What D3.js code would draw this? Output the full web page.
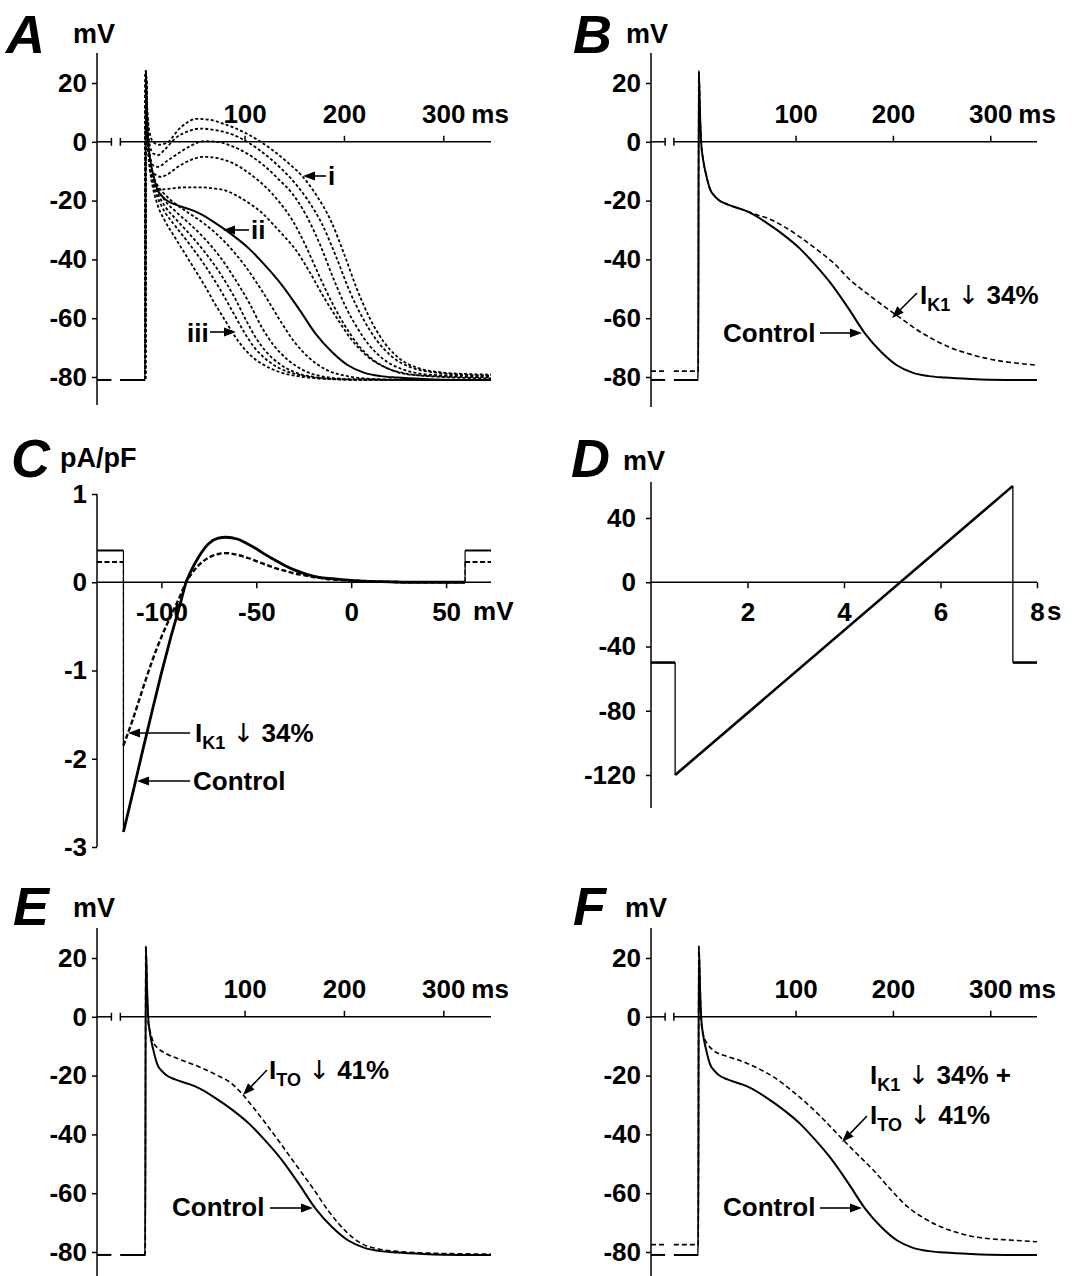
<!DOCTYPE html>
<html>
<head>
<meta charset="utf-8">
<script src="https://cdn.jsdelivr.net/npm/d3@7"></script>
<style>
  body { margin: 0; background: #fff; }
  text { font-family: "Liberation Sans", Arial, sans-serif; font-weight: bold; fill: #000; }
  .arr { font-family: "DejaVu Sans", sans-serif; font-weight: normal; }
</style>
</head>
<body>
<svg id="fig" width="1089" height="1276"></svg>
<script>
// ---------- data ----------
// action potentials: [time ms, membrane potential mV]
const controlAP = [[-25,-81],[0,-81],[0.6,24],[2,8],[3,0],[5,-6],[8,-11],[12,-16],[17,-18.5],[21,-19.8],[30,-21.3],[45,-23],[56,-24.6],[70,-27.5],[87,-31.5],[105,-36.5],[120,-41.8],[137,-48.5],[154,-56.5],[172,-65.5],[188,-71.5],[204,-76],[220,-78.5],[237,-79.7],[253,-80.2],[280,-80.7],[316,-81],[348,-81]];
const ik1AP = [[-25,-78],[0,-78],[0.6,24],[2,8],[3,0],[5,-6],[8,-11],[12,-16],[17,-18.5],[21,-19.8],[30,-21.3],[45,-23],[60,-24.8],[75,-26.5],[88,-28.8],[105,-32.5],[122,-36.7],[140,-41.5],[156,-47],[175,-52],[191,-56],[208,-60],[225,-64],[242,-67.3],[259,-70],[277,-72],[294,-73.5],[311,-74.6],[328,-75.3],[348,-76]];
const itoAP = [[-25,-81],[0,-81],[0.6,24],[2,10],[3,-2],[5,-5],[8,-8.5],[14,-11],[21,-12.5],[35,-14.5],[54,-17],[70,-19.5],[87,-22.7],[97,-26],[108,-30.5],[120,-35.7],[136,-43],[152,-50.5],[169,-58.4],[185,-66.3],[202,-73],[218,-77.2],[235,-79],[251,-79.7],[280,-80.3],[316,-80.6],[348,-80.7]];
const bothAP = [[-25,-77.5],[0,-77.5],[0.6,24],[2,10],[3,-1],[5,-5.9],[10,-9.5],[16,-11.5],[30,-13.5],[43,-14.9],[60,-17.3],[78,-20.6],[95,-24.8],[112,-29.6],[129,-35],[146,-40.9],[163,-46.6],[180,-52.2],[197,-58.5],[215,-64.6],[232,-68.5],[249,-71.4],[266,-73.4],[283,-74.8],[300,-75.5],[318,-75.9],[348,-76.5]];

// panel A family: i (upper, with dome) ... iii (lower, no plateau)
const upperAP1 = [[-25,-81],[0,-81],[0.6,24],[2,12],[4,4],[8,0],[14,-1],[21,-0.5],[36,5],[52,7.8],[65,7.5],[80,6],[102,2.8],[128,-2.8],[145,-7.5],[157,-11.3],[172,-18],[187,-27],[200,-38],[213,-50],[226,-60],[240,-68],[255,-73.5],[275,-77],[300,-78.5],[325,-79],[348,-79.2]];
const upperAP2 = [[-25,-81],[0,-81],[0.6,24],[2,10],[4,0],[8,-4],[13,-4.5],[20,-2.5],[30,1.1],[45,3.8],[56,4.5],[70,4],[89,2.3],[115,-2.8],[135,-8.5],[148,-13],[163,-19.5],[178,-28],[192,-39],[206,-51],[219,-60],[233,-67.5],[248,-73],[268,-76.8],[295,-78.6],[325,-79.3],[348,-79.5]];
const upperAP3 = [[-25,-81],[0,-81],[0.6,24],[2,9],[4,-3],[8,-8],[13,-8.5],[22,-6.5],[33,-4],[45,-1.5],[59,0.2],[72,0],[89,-1.7],[105,-4.5],[121,-8.5],[135,-13],[148,-17.6],[162,-25],[176,-35],[190,-47],[203,-57],[212,-62.5],[225,-69],[240,-74],[260,-77.5],[290,-79.3],[348,-79.8]];
const upperAP4 = [[-25,-81],[0,-81],[0.6,24],[2,8],[4,-5],[8,-10.5],[16,-11.9],[25,-10.5],[33,-8.5],[45,-6.3],[59,-5.1],[72,-5.5],[89,-7.4],[105,-10.8],[121,-15.3],[135,-20.5],[148,-26.6],[161,-35],[175,-45.5],[190,-56],[200,-62],[213,-68.5],[228,-73.8],[245,-77.2],[270,-79.3],[348,-80.2]];
const upperAP5 = [[-25,-81],[0,-81],[0.6,24],[2,6],[4,-7],[8,-13],[15,-16.3],[23,-16],[40,-15.5],[56,-15.5],[70,-15.9],[79,-16.4],[92,-18.3],[105,-21],[117,-24],[128,-27.8],[140,-32.2],[151,-36.5],[165,-44],[180,-53],[193,-60],[207,-67],[222,-72.5],[240,-76.5],[265,-79],[300,-80],[348,-80.5]];
const lowerAP1 = [[-25,-81],[0,-81],[0.6,24],[2,8],[3,-2],[5,-10],[8,-16],[12,-21],[20,-27],[28,-31.5],[40,-38],[50,-43.5],[60,-49],[70,-55],[80,-60.5],[90,-66],[100,-70.5],[110,-73.8],[120,-76],[135,-78.3],[155,-79.8],[180,-80.6],[220,-81],[348,-81]];
const lowerAP2 = [[-25,-81],[0,-81],[0.6,24],[2,8],[3,-1],[5,-9],[8,-14.5],[12,-18.5],[20,-24],[30,-28.5],[45,-35],[60,-42],[75,-50],[90,-59],[100,-65],[110,-70],[120,-73.5],[135,-77],[155,-79.3],[185,-80.6],[230,-81],[348,-81]];
const lowerAP3 = [[-25,-81],[0,-81],[0.6,24],[2,8],[3,-1],[5,-8],[8,-13],[12,-17],[20,-22],[30,-26],[45,-31.5],[60,-37.5],[75,-44.5],[90,-53],[102,-61],[112,-67],[122,-71.5],[135,-75.5],[150,-78.3],[170,-80],[200,-80.8],[348,-81]];
const lowerAP4 = [[-25,-81],[0,-81],[0.6,24],[2,8],[3,-1],[5,-7.5],[8,-12],[12,-15.5],[20,-20],[30,-23.5],[45,-28],[60,-33],[75,-39],[90,-46.5],[105,-55],[118,-63.5],[130,-69.5],[143,-74],[158,-77.5],[178,-79.8],[210,-80.8],[348,-81]];
const lowerAP5 = [[-25,-81],[0,-81],[0.6,24],[2,8],[3,-1],[5,-7],[8,-11.5],[12,-14.5],[20,-18],[30,-21],[45,-24.5],[60,-28],[80,-34],[100,-42],[120,-52],[138,-62],[150,-68],[165,-73.5],[182,-77.5],[200,-79.5],[225,-80.6],[260,-81],[348,-81]];

// panel C: ramp I-V, voltage mV vs current pA/pF
const rampV = [-120,-115,-110,-105,-100,-95,-90,-87,-85,-80,-75,-70,-66,-60,-55,-50,-45,-40,-35,-30,-25,-20,-15,-10,-5,0,10,20,30,45,60];
const iControl = [-2.83,-2.38,-1.92,-1.47,-1.03,-0.62,-0.24,0,0.1,0.3,0.44,0.5,0.51,0.49,0.44,0.38,0.31,0.25,0.19,0.14,0.1,0.07,0.05,0.04,0.03,0.02,0.01,0.005,0,0,0];
const iIK1 = [-1.85,-1.55,-1.22,-0.9,-0.62,-0.38,-0.15,0,0.07,0.2,0.28,0.32,0.33,0.31,0.28,0.24,0.2,0.16,0.13,0.1,0.08,0.06,0.045,0.03,0.025,0.02,0.01,0.005,0,0,0];
const holdControl = 0.36, holdIK1 = 0.23;

// panel D: voltage protocol
const protoT = [0, 0.5, 0.5, 7.5, 7.5, 8];
const protoV = [-50, -50, -120, 60, -50, -50];

// tick values
const apTicksX = [100, 200, 300];
const apTicksY = [20, 0, -20, -40, -60, -80];
const ivTicksX = [-100, -50, 0, 50];
const ivTicksY = [1, 0, -1, -2, -3];
const protoTicksX = [2, 4, 6, 8];
const protoTicksY = [40, 0, -40, -80, -120];

// ---------- drawing ----------
const svg = d3.select("#fig");
const FS = 26;
const tStart = -48.5, tEnd = 348, brk = [-34, -25];

function styleAxis(ax){
  ax.selectAll("line").attr("stroke", "#000").attr("stroke-width", 1.5);
  ax.selectAll("text").style("font-size", FS + "px").attr("fill", "#000");
}

function yAxis(g, y, x0, ticks, top, bottom, pad){
  const ax = g.append("g").attr("transform", `translate(${x0},0)`)
    .call(d3.axisLeft(y).tickValues(ticks).tickSize(5).tickPadding(pad).tickSizeOuter(0).tickFormat(d => String(d)));
  ax.select(".domain").remove();
  styleAxis(ax);
  g.append("line").attr("x1", x0).attr("x2", x0).attr("y1", top).attr("y2", bottom)
    .attr("stroke", "#000").attr("stroke-width", 1.5);
}

function arrow(g, x1, y1, x2, y2){
  const a = Math.atan2(y2 - y1, x2 - x1), L = 12, h = 4.5;
  const bx = x2 - L * Math.cos(a), by = y2 - L * Math.sin(a);
  g.append("line").attr("x1", x1).attr("y1", y1).attr("x2", bx).attr("y2", by)
    .attr("stroke", "#000").attr("stroke-width", 1.6);
  g.append("path")
    .attr("d", `M${x2},${y2}L${bx - h * Math.sin(a)},${by + h * Math.cos(a)}L${bx + h * Math.sin(a)},${by - h * Math.cos(a)}Z`)
    .attr("fill", "#000");
}

// label with current name + subscript, e.g. I_K1 ↓ 34%
function currentLabel(g, x, y, sub, rest){
  const t = g.append("text").attr("x", x).attr("y", y).style("font-size", FS + "px");
  t.append("tspan").text("I");
  t.append("tspan").attr("dy", 7).style("font-size", "18px").text(sub);
  t.append("tspan").attr("dy", -7).text(" ");
  t.append("tspan").attr("class", "arr").style("font-size", "26px").text("\u2193");
  t.append("tspan").text(" " + rest);
}

function plainText(g, x, y, s, size){
  g.append("text").attr("x", x).attr("y", y).style("font-size", (size || FS) + "px").text(s);
}

function panelTitle(g, x, y, letter, ux, uy, unit){
  g.append("text").attr("x", x).attr("y", y).style("font-size", "54px").style("font-style", "italic").text(letter);
  plainText(g, ux, uy, unit, 27);
}

// action potential panel (A, B, E, F)
function apPanel(o){
  const g = svg.append("g");
  const x = d3.scaleLinear().domain([tStart, tEnd]).range([o.left, o.right]);
  const y = d3.scaleLinear().domain([-80, 20]).range([o.y80, o.y20]);
  const y0 = y(0);

  yAxis(g, y, o.left, apTicksY, o.top, o.bottom, 5);

  const ax = g.append("g").attr("transform", `translate(0,${y0})`)
    .call(d3.axisTop(x).tickValues(apTicksX).tickSize(6).tickPadding(13).tickFormat(d => String(d)));
  ax.select(".domain").remove();
  styleAxis(ax);
  g.append("text").attr("x", x(300) + 28).attr("y", y0 - 19).style("font-size", FS + "px").text("ms");
  // broken time axis
  [[tStart, brk[0]], [brk[1], tEnd]].forEach(s => {
    g.append("line").attr("x1", x(s[0])).attr("x2", x(s[1])).attr("y1", y0).attr("y2", y0)
      .attr("stroke", "#000").attr("stroke-width", 1.5);
  });
  brk.forEach(b => {
    g.append("line").attr("x1", x(b)).attr("x2", x(b)).attr("y1", y0 - 4).attr("y2", y0 + 4)
      .attr("stroke", "#000").attr("stroke-width", 1.5);
  });

  const line = d3.line().x(d => x(d[0])).y(d => y(d[1])).curve(d3.curveMonotoneX);
  o.traces.forEach(tr => {
    const v0 = tr.data[0][1];
    const style = p => p.attr("fill", "none").attr("stroke", "#000")
      .attr("stroke-width", tr.width).attr("stroke-dasharray", tr.dash || null);
    style(g.append("path").attr("d", d3.line()([[x(tStart), y(v0)], [x(brk[0]), y(v0)]])));
    style(g.append("path").attr("d", line(tr.data)));
  });
  return g;
}

const dotted = "3,2.2", dashed = "5,3";

// A
const gA = apPanel({left: 97, right: 491, y20: 83, y80: 377, top: 53, bottom: 405,
  traces: [upperAP1, upperAP2, upperAP3, upperAP4, upperAP5, lowerAP1, lowerAP2, lowerAP3, lowerAP4, lowerAP5]
    .map(d => ({data: d, width: 1.8, dash: dotted}))
    .concat([{data: controlAP, width: 2}])});
panelTitle(gA, 6, 53, "A", 73, 43, "mV");
plainText(gA, 328, 185, "i");
arrow(gA, 326, 176, 303, 176);
plainText(gA, 251, 239, "ii");
arrow(gA, 249, 230, 223, 230);
plainText(gA, 187, 342, "iii");
arrow(gA, 210, 332, 236, 332);

// B
const gB = apPanel({left: 651, right: 1037, y20: 83, y80: 377, top: 53, bottom: 407,
  traces: [{data: ik1AP, width: 1.6, dash: dashed}, {data: controlAP, width: 2}]});
panelTitle(gB, 573, 53, "B", 626, 43, "mV");
plainText(gB, 723, 342, "Control");
arrow(gB, 820, 333, 862, 333);
currentLabel(gB, 920, 304, "K1", "34%");
arrow(gB, 917, 293, 892, 318);

// E
const gE = apPanel({left: 97, right: 491, y20: 958, y80: 1252, top: 928, bottom: 1276,
  traces: [{data: itoAP, width: 1.6, dash: dashed}, {data: controlAP, width: 2}]});
panelTitle(gE, 13, 925, "E", 73, 917, "mV");
currentLabel(gE, 269, 1079, "TO", "41%");
arrow(gE, 267, 1070, 243, 1095);
plainText(gE, 172, 1216, "Control");
arrow(gE, 270, 1208, 313, 1208);

// F
const gF = apPanel({left: 651, right: 1037, y20: 958, y80: 1252, top: 928, bottom: 1276,
  traces: [{data: bothAP, width: 1.6, dash: dashed}, {data: controlAP, width: 2}]});
panelTitle(gF, 573, 925, "F", 625, 917, "mV");
currentLabel(gF, 870, 1084, "K1", "34% +");
currentLabel(gF, 870, 1124, "TO", "41%");
arrow(gF, 867, 1116, 842, 1142);
plainText(gF, 723, 1216, "Control");
arrow(gF, 820, 1208, 862, 1208);

// C: I-V relation during ramp
(function(){
  const g = svg.append("g");
  const x = d3.scaleLinear().domain([-100, 50]).range([161.4, 446.1]);
  const y = d3.scaleLinear().domain([-3, 1]).range([847, 494]);
  const left = x.invert(97), right = x.invert(491);
  yAxis(g, y, 97, ivTicksY, 494, 847, 5);
  const ax = g.append("g").attr("transform", `translate(0,${y(0)})`)
    .call(d3.axisBottom(x).tickValues(ivTicksX).tickSize(6).tickPadding(14).tickFormat(d => String(d)));
  ax.select(".domain").remove();
  styleAxis(ax);
  g.append("line").attr("x1", 97).attr("x2", 491).attr("y1", y(0)).attr("y2", y(0))
    .attr("stroke", "#000").attr("stroke-width", 1.5);
  g.append("text").attr("x", x(50) + 27).attr("y", y(0) + 38).style("font-size", FS + "px").text("mV");

  const lin = d3.line().x(d => x(d[0])).y(d => y(d[1]));
  const smooth = d3.line().x(d => x(d[0])).y(d => y(d[1])).curve(d3.curveMonotoneX);
  [{cur: iControl, hold: holdControl, dash: null, w: 2.8}, {cur: iIK1, hold: holdIK1, dash: "5,2.5", w: 2.4}].forEach(s => {
    const v0 = rampV[0], v1 = rampV[rampV.length - 1];
    // holding segments (thick) and jumps (thin)
    [[[left, s.hold], [v0, s.hold]], [[v1, s.hold], [right, s.hold]]].forEach(seg => {
      g.append("path").attr("d", lin(seg)).attr("fill", "none").attr("stroke", "#000")
        .attr("stroke-width", 2).attr("stroke-dasharray", s.dash);
    });
    [[[v0, s.hold], [v0, s.cur[0]]], [[v1, s.cur[s.cur.length - 1]], [v1, s.hold]]].forEach(seg => {
      g.append("path").attr("d", lin(seg)).attr("fill", "none").attr("stroke", "#000")
        .attr("stroke-width", 1.2).attr("stroke-dasharray", s.dash);
    });
    g.append("path").attr("d", smooth(rampV.map((v, i) => [v, s.cur[i]])))
      .attr("fill", "none").attr("stroke", "#000").attr("stroke-width", s.w).attr("stroke-dasharray", s.dash);
  });

  panelTitle(g, 11, 477, "C", 60, 467, "pA/pF");
  currentLabel(g, 195, 742, "K1", "34%");
  arrow(g, 190, 733, 128, 733);
  plainText(g, 193, 790, "Control");
  arrow(g, 190, 781, 137, 781);
})();

// D: ramp protocol
(function(){
  const g = svg.append("g");
  const x = d3.scaleLinear().domain([0, 8]).range([651, 1037]);
  const y = d3.scaleLinear().domain([-120, 40]).range([775, 518]);
  yAxis(g, y, 651, protoTicksY, 482, 808, 10);
  const ax = g.append("g").attr("transform", `translate(0,${y(0)})`)
    .call(d3.axisBottom(x).tickValues(protoTicksX).tickSize(6).tickPadding(14).tickFormat(d => String(d)));
  ax.select(".domain").remove();
  styleAxis(ax);
  g.append("line").attr("x1", 651).attr("x2", 1037).attr("y1", y(0)).attr("y2", y(0))
    .attr("stroke", "#000").attr("stroke-width", 1.5);
  g.append("text").attr("x", x(8) + 10).attr("y", y(0) + 38).style("font-size", FS + "px").text("s");

  for (let i = 1; i < protoT.length; i++) {
    const vertical = protoT[i] === protoT[i - 1];
    g.append("line")
      .attr("x1", x(protoT[i - 1])).attr("y1", y(protoV[i - 1]))
      .attr("x2", x(protoT[i])).attr("y2", y(protoV[i]))
      .attr("stroke", "#000").attr("stroke-width", vertical ? 1.3 : 2.6);
  }
  panelTitle(g, 571, 477, "D", 623, 470, "mV");
})();
</script>
</body>
</html>
